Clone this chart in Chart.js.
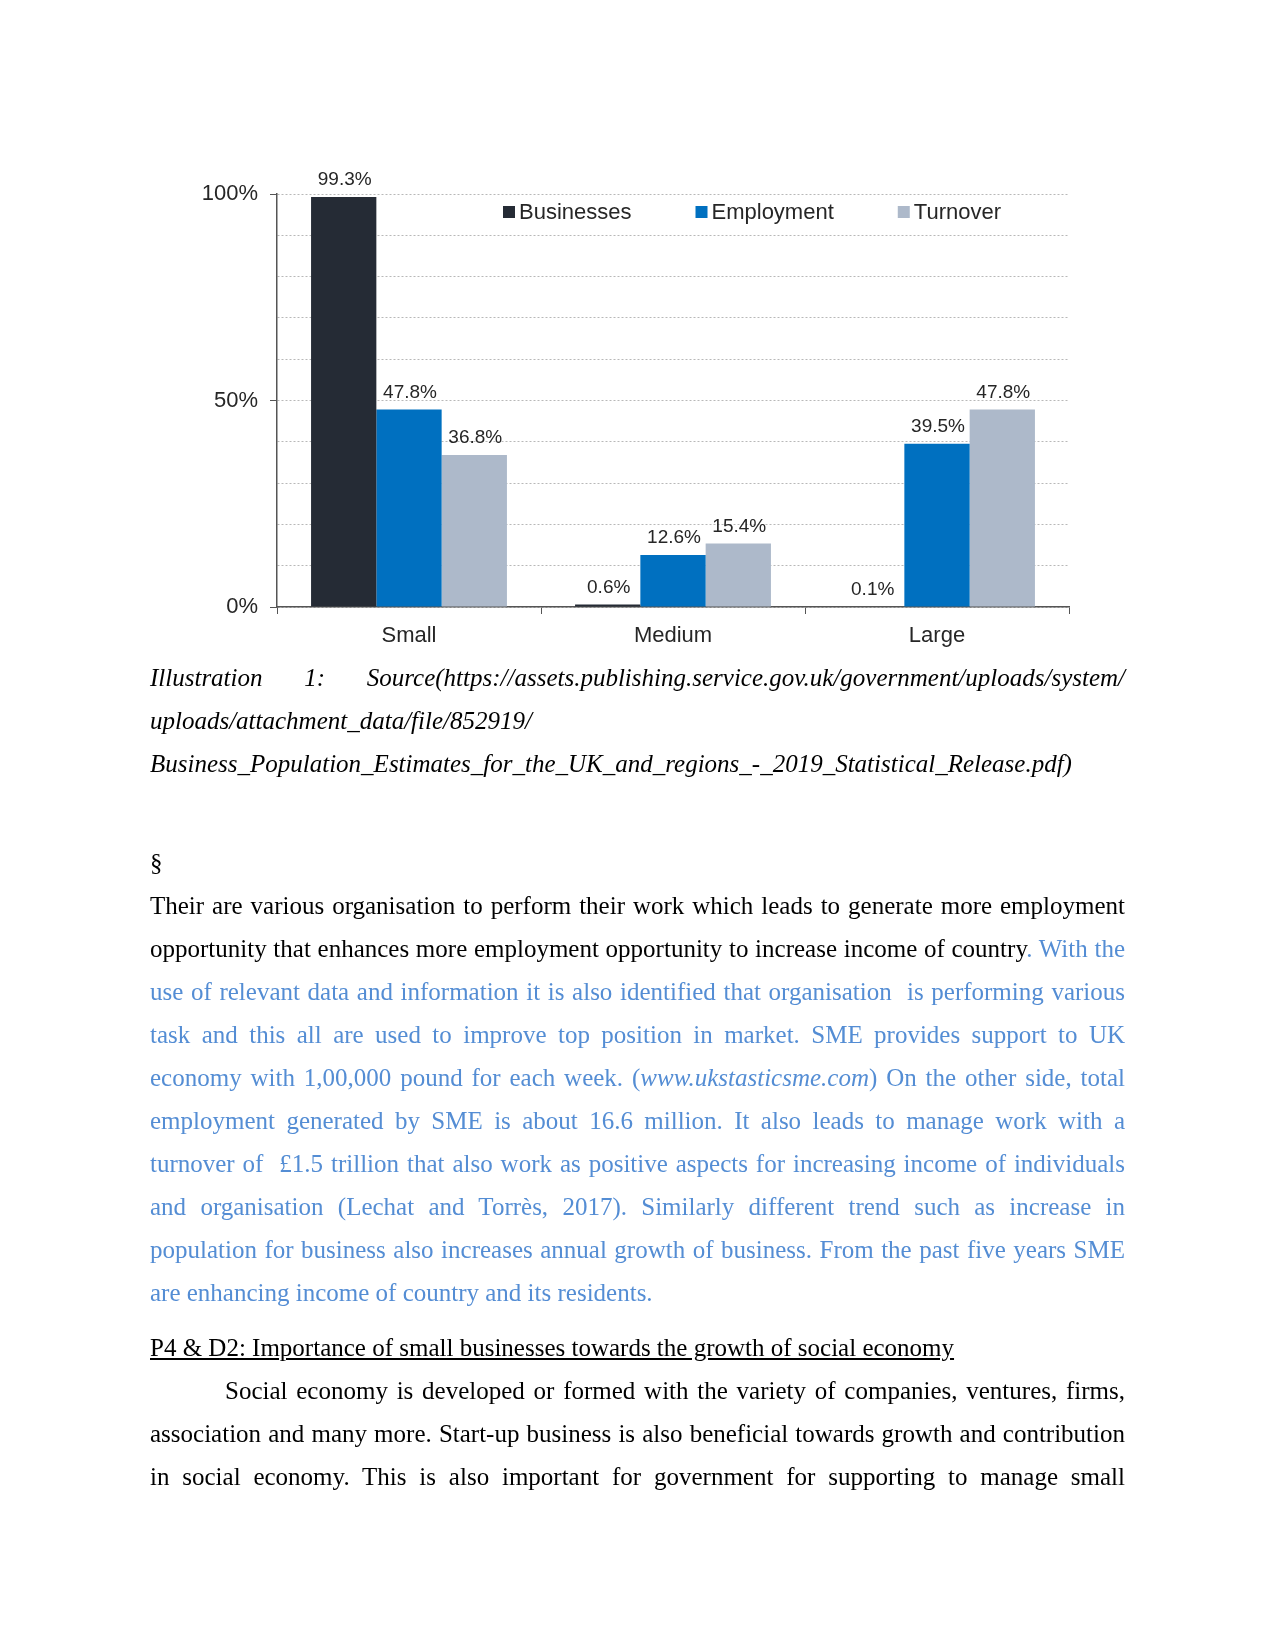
<!DOCTYPE html>
<html>
<head>
<meta charset="utf-8">
<script src="https://cdn.jsdelivr.net/npm/chart.js@4.4.1/dist/chart.umd.min.js"></script>
<style>
    body { margin: 0; background: #fff; }
    #page { position: relative; width: 1275px; height: 1651px; overflow: hidden; }
    #chartBox { position: absolute; left: 0; top: 0; width: 1275px; height: 680px; }
    #text { position: absolute; left: 150px; top: 656px; width: 975px;
        font-family: 'Liberation Serif', 'Times New Roman', serif; font-size: 25px; line-height: 43px; color: #000; }
    .j { text-align: justify; text-align-last: justify; white-space: pre-wrap; }
    .l { text-align: left; white-space: pre-wrap; }
    .it { font-style: italic; }
    .blue { color: #548dd4; }
    .sect { margin-top: 56px; }
    .head { margin-top: 12px; text-decoration: underline; }
    .indent { text-indent: 75px; }
</style>
</head>
<body>
<div id="page">
    <div id="chartBox"><canvas id="chart"></canvas></div>
    <div id="text">
        <div class="it">
            <div class="j">Illustration 1: Source(https://assets.publishing.service.gov.uk/government/uploads/system/</div>
            <div class="l">uploads/attachment_data/file/852919/</div>
            <div class="l">Business_Population_Estimates_for_the_UK_and_regions_-_2019_Statistical_Release.pdf)</div>
        </div>
        <div class="sect">§</div>
        <div>
            <div class="j">Their are various organisation to perform their work which leads to generate more employment</div>
            <div class="j">opportunity that enhances more employment opportunity to increase income of country<span class="blue">. With the</span></div>
            <div class="j blue">use of relevant data and information it is also identified that organisation  is performing various</div>
            <div class="j blue">task and this all are used to improve top position in market. SME provides support to UK</div>
            <div class="j blue">economy with 1,00,000 pound for each week. (<span class="it">www.ukstasticsme.com</span>) On the other side, total</div>
            <div class="j blue">employment generated by SME is about 16.6 million. It also leads to manage work with a</div>
            <div class="j blue">turnover of  £1.5 trillion that also work as positive aspects for increasing income of individuals</div>
            <div class="j blue">and organisation (Lechat and Torrès, 2017). Similarly different trend such as increase in</div>
            <div class="j blue">population for business also increases annual growth of business. From the past five years SME</div>
            <div class="l blue">are enhancing income of country and its residents.</div>
        </div>
        <div class="head">P4 &amp; D2: Importance of small businesses towards the growth of social economy</div>
        <div>
            <div class="j indent">Social economy is developed or formed with the variety of companies, ventures, firms,</div>
            <div class="j">association and many more. Start-up business is also beneficial towards growth and contribution</div>
            <div class="j">in social economy. This is also important for government for supporting to manage small</div>
        </div>
    </div>
</div>
<script>
    const categories = ['Small', 'Medium', 'Large'];
    const seriesNames = ['Businesses', 'Employment', 'Turnover'];
    const businesses = [99.3, 0.6, 0.1];
    const employment = [47.8, 12.6, 39.5];
    const turnover = [36.8, 15.4, 47.8];
    const yTickLabels = { 0: '0%', 50: '50%', 100: '100%' };

    const colors = ['#252b35', '#0070c0', '#adb9ca'];
    const axisColor = '#555555';
    const textColor = '#262626';
    const chartFont = "'Liberation Sans', Arial, sans-serif";

    // value labels above each bar
    const valueLabels = {
        id: 'valueLabels',
        afterDatasetsDraw(chart) {
            const ctx = chart.ctx;
            ctx.save();
            ctx.font = '19px ' + chartFont;
            ctx.fillStyle = textColor;
            ctx.textAlign = 'center';
            ctx.textBaseline = 'middle';
            chart.data.datasets.forEach((ds, i) => {
                chart.getDatasetMeta(i).data.forEach((bar, j) => {
                    ctx.fillText(ds.data[j].toFixed(1) + '%', bar.x + 1, bar.y - 17);
                });
            });
            ctx.restore();
        }
    };

    // legend inside the plot, top right
    const insideLegend = {
        id: 'insideLegend',
        afterDraw(chart) {
            const ctx = chart.ctx;
            ctx.save();
            ctx.font = '22px ' + chartFont;
            ctx.textBaseline = 'middle';
            let x = 503;
            const y = 212;
            chart.data.datasets.forEach(ds => {
                ctx.fillStyle = ds.backgroundColor;
                ctx.fillRect(x, y - 6, 12, 12);
                ctx.fillStyle = textColor;
                ctx.fillText(ds.label, x + 16, y + 1);
                x += 16 + ctx.measureText(ds.label).width + 64;
            });
            ctx.restore();
        }
    };

    new Chart(document.getElementById('chart'), {
        type: 'bar',
        data: {
            labels: categories,
            datasets: [
                { label: seriesNames[0], data: businesses, backgroundColor: colors[0] },
                { label: seriesNames[1], data: employment, backgroundColor: colors[1] },
                { label: seriesNames[2], data: turnover, backgroundColor: colors[2] }
            ]
        },
        options: {
            responsive: true,
            maintainAspectRatio: false,
            animation: false,
            datasets: { bar: { categoryPercentage: 0.742, barPercentage: 1.0 } },
            layout: { padding: { left: 197, right: 206, top: 194, bottom: 23 } },
            plugins: {
                legend: { display: false },
                tooltip: { enabled: false }
            },
            scales: {
                x: {
                    offset: true,
                    grid: { offset: true, drawOnChartArea: false, tickLength: 7, tickColor: axisColor },
                    border: { color: axisColor, width: 1.5 },
                    ticks: { font: { family: chartFont, size: 22 }, color: textColor, padding: 9 },
                    afterFit(scale) { scale.height = 50; }
                },
                y: {
                    min: 0,
                    max: 100,
                    ticks: {
                        stepSize: 10,
                        autoSkip: false,
                        font: { family: chartFont, size: 22 },
                        color: textColor,
                        padding: 12,
                        callback: v => yTickLabels[v] || ''
                    },
                    grid: {
                        color: '#b8b8b8',
                        tickLength: 7,
                        tickColor: c => (c.tick && c.tick.value % 50 === 0) ? axisColor : 'rgba(0,0,0,0)'
                    },
                    border: { color: axisColor, width: 1.5, dash: [2, 2] },
                    afterFit(scale) { scale.width = 80; }
                }
            }
        },
        plugins: [valueLabels, insideLegend]
    });
</script>
</body>
</html>
